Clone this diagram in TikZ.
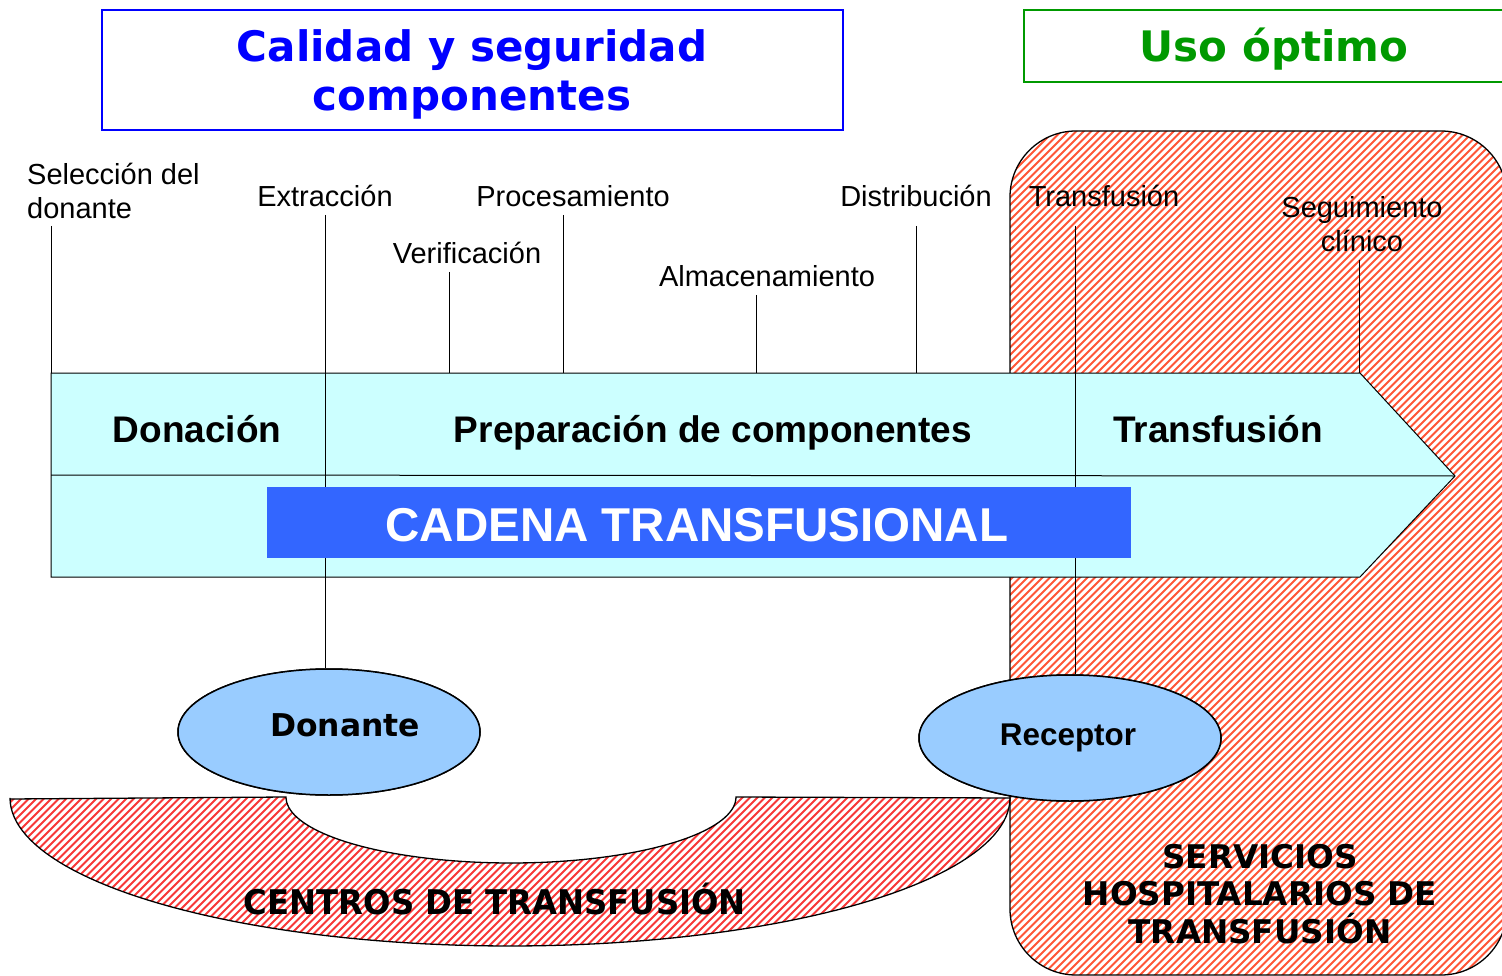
\documentclass[tikz,border=0pt]{standalone}
\usepackage{fontspec}
\setmainfont{Liberation Sans}
\newfontfamily\verd{DejaVu Sans}
\usetikzlibrary{shapes.geometric}
\definecolor{cyanfill}{HTML}{CCFFFF}
\definecolor{cadena}{HTML}{3366FF}
\definecolor{ellfill}{HTML}{99CCFF}
\definecolor{titleblue}{HTML}{0000FF}
\definecolor{titlegreen}{HTML}{009900}
\definecolor{hatchR}{RGB}{255,85,55}
\definecolor{hatchL}{RGB}{248,55,55}
\tikzset{
  lbl/.style={font=\fontsize{29}{34}\selectfont, inner sep=0pt, align=center},
  stage/.style={font=\fontsize{37}{40}\selectfont\bfseries, inner sep=0pt, anchor=base},
  tick/.style={line width=1pt},
  outline/.style={draw=black, line width=1.3pt},
  hatchlineR/.style={draw=hatchR, line width=2pt},
  hatchlineL/.style={draw=hatchL, line width=2pt},
  oval/.style={ellipse, draw=black, line width=1.5pt, fill=ellfill, minimum width=302pt, minimum height=126pt, inner sep=0pt},
  titlebox/.style={line width=1.8pt},
}
\begin{document}
\begin{tikzpicture}[x=1pt,y=-1pt]
\useasboundingbox (0,0) rectangle (1502,976);

% ---------- right hatched region (servicios hospitalarios)
\begin{scope}
  \clip[rounded corners=66pt] (1010,131) rectangle (1507,975);
  \fill[white] (1010,131) rectangle (1507,975);
  \foreach \k in {14,...,202} \draw[hatchlineR] ({\k*7.5},990) -- ++(900,-900);
\end{scope}
\draw[outline, rounded corners=66pt] (1010,131) rectangle (1507,975);

% ---------- title boxes
\draw[titlebox, draw=titleblue] (102,10) rectangle (843,130);
\node[font=\fontsize{42}{49}\selectfont\verd\bfseries, text=titleblue, align=center, inner sep=0pt] (titleA) at (472,74) {Calidad y seguridad\\componentes};
\draw[titlebox, draw=titlegreen] (1024,10) rectangle (1512,82);
\node[font=\fontsize{42}{49}\selectfont\verd\bfseries, text=titlegreen, inner sep=0pt] (titleB) at (1274,49) {Uso óptimo};

% ---------- main arrow
\coordinate (aTL) at (51,373);
\coordinate (aTR) at (1360,373);
\coordinate (tip) at (1455,476);
\coordinate (aBR) at (1360,577);
\coordinate (aBL) at (51,577);
\coordinate (midL) at (51,475);
\draw[outline, line width=1pt, fill=cyanfill] (aTL) -- (aTR) -- (tip) -- (aBR) -- (aBL) -- cycle;
\draw[tick] (midL) -- (tip);

% ---------- ellipses (nodes for connectors)
\node[oval] (donante) at (329,732) {};
\node[oval] (receptor) at (1070,738) {};

% ---------- step labels
\node[lbl, align=left, anchor=west] (sel) at (27,191) {Selección del\\donante};
\node[lbl] (ext) at (325,196) {Extracción};
\node[lbl] (ver) at (467,253) {Verificación};
\node[lbl] (pro) at (573,196) {Procesamiento};
\node[lbl] (alm) at (767,276) {Almacenamiento};
\node[lbl] (dis) at (916,196) {Distribución};
\node[lbl] (trf) at (1104,196) {Transfusión};
\node[lbl] (seg) at (1362,224) {Seguimiento\\clínico};

\coordinate (selT) at (51,226);   \coordinate (selB) at (51,373);
\coordinate (extT) at (325,215);
\coordinate (verT) at (449,272);  \coordinate (verB) at (449,373);
\coordinate (proT) at (563,215);  \coordinate (proB) at (563,373);
\coordinate (almT) at (756,295);  \coordinate (almB) at (756,373);
\coordinate (disT) at (916,226);  \coordinate (disB) at (916,373);
\coordinate (trfT) at (1075,226);
\coordinate (segT) at (1359,260); \coordinate (segB) at (1359,373);

\draw[tick] (selT) -- (selB);
\draw[tick] (extT) -- (extT |- donante.north);
\draw[tick] (verT) -- (verB);
\draw[tick] (proT) -- (proB);
\draw[tick] (almT) -- (almB);
\draw[tick] (disT) -- (disB);
\draw[tick] (trfT) -- (trfT |- receptor.north);
\draw[tick] (segT) -- (segB);

% ---------- stage names
\node[stage] (don) at (197,442) {Donación};
\node[stage] (prep) at (713,442) {Preparación de componentes};
\node[stage] (tra) at (1218,442) {Transfusión};

% ---------- cadena box
\node[fill=cadena, minimum width=864pt, minimum height=71pt, inner sep=0pt] (cadbox) at (699,522.5) {};
\node[font=\fontsize{47.5}{50}\selectfont\bfseries, text=white, inner sep=0pt] (cad) at (697,525) {CADENA TRANSFUSIONAL};

% ---------- centros de transfusion
\begin{scope}
  \clip (10,799) -- (286,797) -- plot[domain=180:0, samples=80] ({511+225*cos(\x)},{797+66*sin(\x)}) -- (1010,798) -- plot[domain=0:180, samples=100] ({510+500*cos(\x)},{798+148*sin(\x)}) -- cycle;
  \fill[white] (0,790) rectangle (1015,950);
  \foreach \k in {-30,...,136} \draw[hatchlineL] ({\k*7.5},955) -- ++(200,-200);
\end{scope}
\draw[outline] (10,799) -- (286,797) -- plot[domain=180:0, samples=80] ({511+225*cos(\x)},{797+66*sin(\x)}) -- (1010,798) -- plot[domain=0:180, samples=100] ({510+500*cos(\x)},{798+148*sin(\x)}) -- cycle;
\node[inner sep=0pt] (centros) at (495,899) {\scalebox{0.95}[1]{\fontsize{34}{38}\selectfont\verd\bfseries CENTROS DE TRANSFUSIÓN}};

% ---------- ellipses redrawn on top with text
\node[oval] at (donante) {};
\node[oval] at (receptor) {};
\node[font=\fontsize{31.4}{34}\selectfont\verd\bfseries, inner sep=0pt] (donT) at (345,725) {Donante};
\node[font=\fontsize{31.4}{34}\selectfont\bfseries, inner sep=0pt] (recT) at (1068,738) {Receptor};

% ---------- servicios
\node[font=\fontsize{32.6}{37.5}\selectfont\verd\bfseries, align=center, inner sep=0pt] (serv) at (1260,894) {SERVICIOS\\HOSPITALARIOS DE\\TRANSFUSIÓN};
\end{tikzpicture}
\end{document}
